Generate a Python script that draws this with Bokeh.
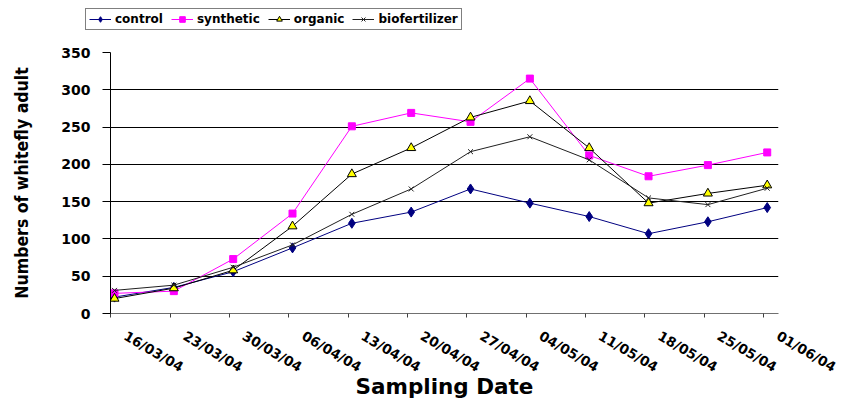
from bokeh.plotting import figure
from bokeh.models import Range1d, FixedTicker, Legend, LegendItem
from bokeh.layouts import column, row
from bokeh.embed import file_html
from bokeh.resources import INLINE

dates = ["16/03/04", "23/03/04", "30/03/04", "06/04/04", "13/04/04", "20/04/04",
         "27/04/04", "04/05/04", "11/05/04", "18/05/04", "25/05/04", "01/06/04"]
control = [22, 35, 56, 88, 121, 136, 167, 148, 130, 107, 123, 142]
synthetic = [27, 30, 73, 134, 251, 269, 257, 315, 212, 184, 199, 216]
organic = [20, 34, 58, 117, 187, 222, 263, 285, 222, 148, 161, 172]
biofertilizer = [31, 38, 62, 92, 133, 167, 217, 237, 206, 155, 146, 168]
y_ticks = [0, 50, 100, 150, 200, 250, 300, 350]

xs = list(range(len(dates)))
tick_shift = -0.062   # tick marks sit a little left of the points
label_shift = 0.18    # rotated labels start a little right of the ticks
tick_pos = [i + tick_shift for i in xs]
label_pos = [i + label_shift for i in xs]

series = [
    ("control", control, dict(color="#000080", marker="diamond", size=10, fill="#000080", mline="#000080")),
    ("synthetic", synthetic, dict(color="#FF00FF", marker="square", size=7, fill="#FF00FF", mline="#FF00FF")),
    ("organic", organic, dict(color="black", marker="triangle", size=9, fill="#FFFF00", mline="black")),
    ("biofertilizer", biofertilizer, dict(color="#202020", marker="x", size=7, fill="#202020", mline="#202020")),
]


def draw(fig, vals, st):
    ln = fig.line(xs, vals, line_color=st["color"], line_width=1)
    mk = fig.scatter(xs, vals, marker=st["marker"], size=st["size"],
                     fill_color=st["fill"], line_color=st["mline"])
    return ln, mk


# ---- main chart ----
p = figure(width=841, height=361, output_backend="svg", toolbar_location=None,
           x_range=Range1d(-0.0673, 11.19), y_range=Range1d(0, 350),
           min_border_left=110, min_border_right=63, min_border_top=12, min_border_bottom=88)
p.outline_line_color = None
p.background_fill_color = "white"
p.border_fill_color = "white"

p.xgrid.grid_line_color = None
p.ygrid.grid_line_color = "black"
p.ygrid.grid_line_width = 1
p.ygrid.ticker = FixedTicker(ticks=y_ticks)

p.yaxis.ticker = FixedTicker(ticks=y_ticks)
p.yaxis.axis_line_color = "black"
p.yaxis.major_tick_line_color = "black"
p.yaxis.major_tick_out = 8
p.yaxis.major_tick_in = 0
p.yaxis.minor_tick_line_color = None
p.yaxis.major_label_standoff = 12
p.yaxis.major_label_text_font = "DejaVu Sans"
p.yaxis.major_label_text_font_style = "bold"
p.yaxis.major_label_text_font_size = "14px"
p.yaxis.major_label_text_color = "black"
p.yaxis.axis_label = "Numbers of whitefly adult"
p.yaxis.axis_label_text_font = "DejaVu Sans Condensed"
p.yaxis.axis_label_text_font_style = "bold"
p.yaxis.axis_label_text_font_size = "17.5px"
p.yaxis.axis_label_text_color = "black"
p.yaxis.axis_label_standoff = 26

p.xaxis.ticker = FixedTicker(ticks=label_pos, minor_ticks=tick_pos)
p.xaxis.major_label_overrides = {lp: d for lp, d in zip(label_pos, dates)}
p.xaxis.axis_line_color = "#707070"
p.xaxis.major_tick_line_color = None
p.xaxis.major_tick_out = 0
p.xaxis.major_tick_in = 0
p.xaxis.minor_tick_line_color = "#404040"
p.xaxis.minor_tick_out = 4
p.xaxis.minor_tick_in = 0
p.xaxis.major_label_orientation = -0.53
p.xaxis.major_label_standoff = 17
p.xaxis.major_label_text_font = "DejaVu Sans"
p.xaxis.major_label_text_font_style = "bold"
p.xaxis.major_label_text_font_size = "13.5px"
p.xaxis.major_label_text_color = "black"
p.xaxis.axis_label = "Sampling Date"
p.xaxis.axis_label_text_font = "DejaVu Sans"
p.xaxis.axis_label_text_font_style = "bold"
p.xaxis.axis_label_text_font_size = "21.5px"
p.xaxis.axis_label_text_color = "black"
p.xaxis.axis_label_standoff = -11

for name, vals, st in series:
    draw(p, vals, st)

# ---- legend strip above the chart ----
lg = figure(width=841, height=40, output_backend="svg", toolbar_location=None,
            x_range=Range1d(100, 101), y_range=Range1d(1000, 1001),
            x_axis_location=None, y_axis_location=None,
            min_border_left=0, min_border_right=0, min_border_top=0, min_border_bottom=0)
lg.outline_line_color = None
lg.grid.grid_line_color = None
lg.background_fill_color = "white"
lg.border_fill_color = "white"

items = []
for name, vals, st in series:
    ln, mk = draw(lg, vals, st)
    items.append(LegendItem(label=name, renderers=[ln, mk]))

legend = Legend(items=items, orientation="horizontal", location=(85, 10))
legend.border_line_color = "black"
legend.border_line_width = 1
legend.background_fill_color = "white"
legend.background_fill_alpha = 1
legend.padding = 3
legend.margin = 0
legend.spacing = 8
legend.glyph_width = 22
legend.glyph_height = 14
legend.label_height = 14
legend.label_standoff = 4
legend.label_text_font = "DejaVu Sans"
legend.label_text_font_style = "bold"
legend.label_text_font_size = "12px"
legend.label_text_color = "black"
lg.add_layout(legend, "center")

layout = column(row(lg, spacing=0), p, spacing=0)
open("out.html", "w").write(file_html(layout, INLINE))
